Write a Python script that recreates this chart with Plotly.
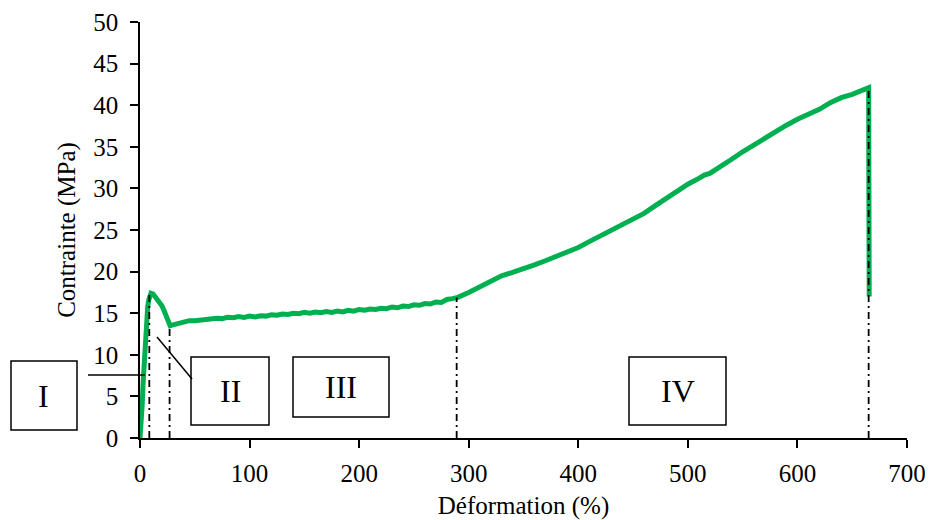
import plotly.graph_objects as go

# Courbe contrainte-deformation
deformation = [0, 1, 2, 3, 4, 5, 6, 7, 8, 9, 10, 12, 14, 16, 18, 20, 22, 24, 26, 27.5,
               30, 35, 40, 45, 50, 55, 60, 65, 70, 75, 80, 85, 90, 95, 100, 105, 110,
               115, 120, 125, 130, 135, 140, 145, 150, 155, 160, 165, 170, 175, 180,
               185, 190, 195, 200, 205, 210, 215, 220, 225, 230, 235, 240, 245, 250,
               255, 260, 265, 270, 275, 280, 285, 290, 300, 310, 320, 330, 340, 350,
               360, 370, 380, 390, 400, 410, 420, 430, 440, 450, 460, 470, 480, 490,
               500, 510, 515, 520, 530, 540, 550, 560, 570, 580, 590, 600, 610, 620,
               630, 640, 650, 660, 665, 665.5]
contrainte = [0, 1.5, 4, 7, 10, 12.5, 14.3, 15.7, 16.6, 17.2, 17.4, 17.3, 17.0, 16.6,
              16.3, 15.9, 15.3, 14.5, 13.8, 13.5, 13.6, 13.8, 13.9, 14.1, 14.1, 14.2,
              14.3, 14.25, 14.4, 14.35, 14.5, 14.45, 14.6, 14.5, 14.65, 14.55, 14.7, 14.65,
              14.8, 14.75, 14.9, 14.85, 15.0, 14.95, 15.1, 15.0, 15.15, 15.05, 15.2, 15.1,
              15.25, 15.15, 15.35, 15.25, 15.45, 15.35, 15.5, 15.45, 15.6, 15.55, 15.75, 15.65,
              15.85, 15.8, 16.0, 15.95, 16.15, 16.1, 16.35, 16.3, 16.65, 16.75, 16.9, 17.5,
              18.2, 18.9, 19.5, 19.9, 20.3, 20.8, 21.3, 21.8, 22.3, 22.9, 23.6, 24.3,
              25.0, 25.7, 26.3, 27.0, 27.9, 28.8, 29.7, 30.5, 31.2, 31.6, 31.8, 32.6,
              33.5, 34.4, 35.2, 36.0, 36.9, 37.6, 38.3, 38.9, 39.5, 40.3, 40.9, 41.3,
              41.8, 42.1, 17.0]

# Limites des zones I-IV
limites_x = [8.5, 27, 289, 665]
limites_y = [17.2, 13.5, 16.9, 42.1]
zones = ["I", "II", "III", "IV"]

FONT = "Liberation Serif, Times New Roman, serif"

fig = go.Figure()
fig.add_trace(go.Scatter(x=deformation, y=contrainte, mode="lines",
                         line=dict(color="#00B050", width=5),
                         showlegend=False, hoverinfo="x+y"))

lx, ly = [], []
for xv, yv in zip(limites_x, limites_y):
    lx += [xv, xv, None]
    ly += [0, yv, None]
fig.add_trace(go.Scatter(x=lx, y=ly, mode="lines",
                         line=dict(color="black", width=1.8, dash="7px,4px,2px,4px"),
                         showlegend=False, hoverinfo="skip"))


# pixel -> paper (zone de tracé 140..907 x 22..438)
def px(x):
    return (x - 140) / 767


def py(y):
    return (438 - y) / 416


boites = [(11, 361, 77, 430), (191, 357, 269, 425), (293, 357, 389, 417), (629, 357, 726, 425)]
for (x0, y0, x1, y1), lab in zip(boites, zones):
    fig.add_shape(type="rect", xref="paper", yref="paper",
                  x0=px(x0), x1=px(x1), y0=py(y1), y1=py(y0),
                  line=dict(color="black", width=1.5), fillcolor="white")
    fig.add_annotation(x=px((x0 + x1) / 2), y=py((y0 + y1) / 2), xref="paper", yref="paper",
                       xanchor="center", yanchor="middle",
                       text=lab, showarrow=False, font=dict(size=32, color="black", family=FONT))

fig.add_shape(type="line", xref="paper", yref="paper",
              x0=px(88), x1=px(145), y0=py(375), y1=py(375), line=dict(color="black", width=1.5))
fig.add_shape(type="line", xref="paper", yref="paper",
              x0=px(157), x1=px(192), y0=py(337), y1=py(379), line=dict(color="black", width=1.5))

axis_style = dict(showline=True, linecolor="black", linewidth=1.5, ticks="outside",
                  ticklen=8, tickcolor="black", tickwidth=1.5, showgrid=False,
                  zeroline=False, automargin=False,
                  tickfont=dict(size=25, color="black", family=FONT))

fig.update_xaxes(range=[0, 700], dtick=100, **axis_style, ticklabelstandoff=4,
                 title=dict(text="Déformation (%)", font=dict(size=25, color="black", family=FONT),
                            standoff=15))
fig.update_yaxes(range=[0, 50], dtick=5, **axis_style, ticklabelstandoff=7,
                 title=dict(text="Contrainte (MPa)", font=dict(size=25, color="black", family=FONT),
                            standoff=11))

# la page html ajoute 8px de marge autour du graphique
fig.update_layout(width=925, height=512, margin=dict(l=132, r=26, t=14, b=82),
                  plot_bgcolor="white", paper_bgcolor="white",
                  font=dict(family=FONT, color="black"))

fig.write_html("out.html")
